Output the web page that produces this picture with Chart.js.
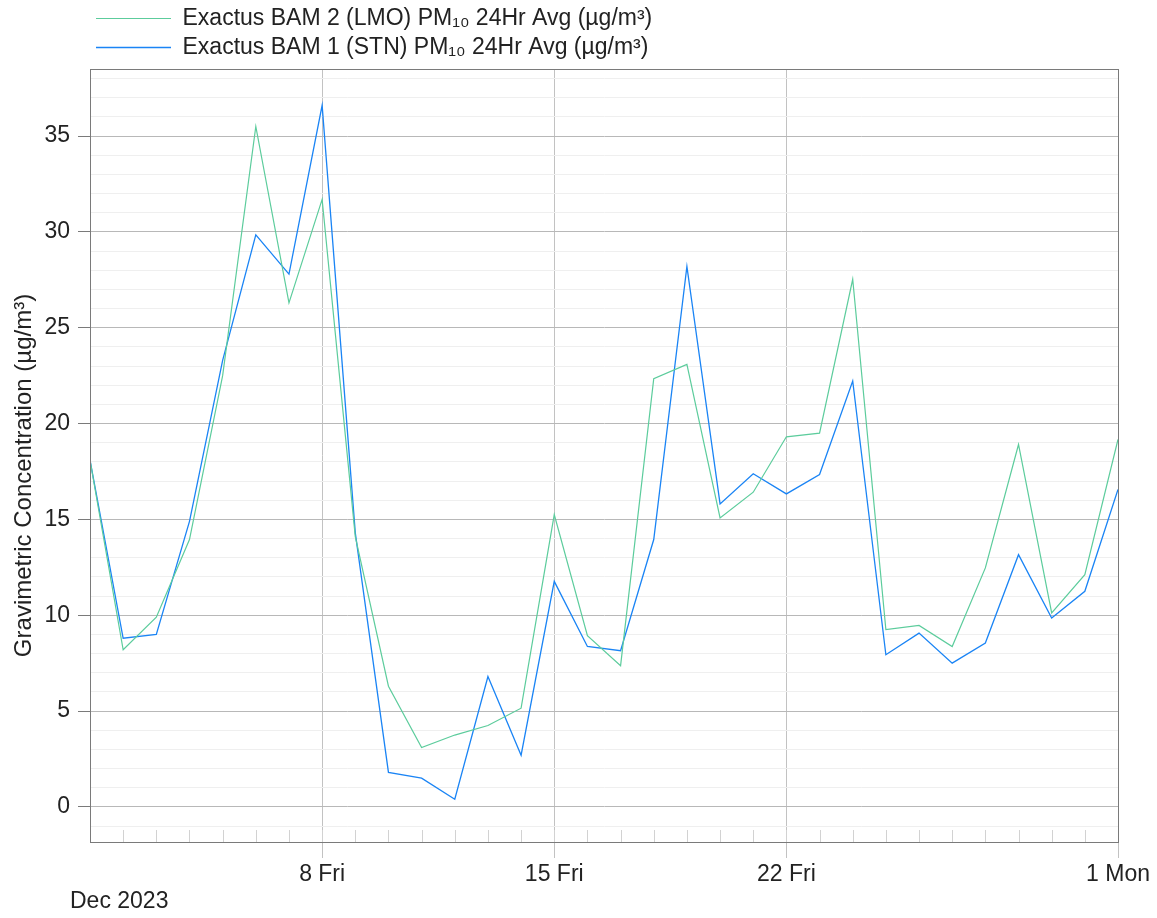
<!DOCTYPE html>
<html>
<head>
<meta charset="utf-8">
<script src="https://cdn.jsdelivr.net/npm/chart.js@4"></script>
<style>
  html, body { margin: 0; padding: 0; background: #fff; }
  #wrap { width: 1157px; height: 918px; position: relative; }
</style>
</head>
<body>
<div id="wrap"><canvas id="chart"></canvas></div>
<script>
// days: 1..31 = Dec 2023, 32 = 1 Jan 2024
const days = [1, 2, 3, 4, 5, 6, 7, 8, 9, 10, 11, 12, 13, 14, 15, 16,
              17, 18, 19, 20, 21, 22, 23, 24, 25, 26, 27, 28, 29, 30, 31, 32];
const bam2Lmo = [18.1, 8.2, 9.9, 13.95, 22.5, 35.5, 26.3, 31.7, 14.1, 6.3, 3.1, 3.75, 4.25, 5.15, 15.25, 8.93,
                 7.37, 22.34, 23.09, 15.08, 16.42, 19.31, 19.5, 27.53, 9.25, 9.47, 8.37, 12.47, 18.91, 10.12, 12.12, 19.17];
const bam1Stn = [18.1, 8.8, 9.0, 14.9, 23.3, 29.85, 27.8, 36.6, 14.3, 1.8, 1.5, 0.4, 6.8, 2.7, 11.77, 8.37,
                 8.15, 13.95, 28.2, 15.81, 17.38, 16.33, 17.34, 22.22, 7.94, 9.07, 7.5, 8.55, 13.16, 9.86, 11.25, 16.56];
const xTickValues = [8, 15, 22, 32];
const xTickLabels = ['8 Fri', '15 Fri', '22 Fri', '1 Mon'];
const monthLabel = 'Dec 2023';

const FONT = '"Liberation Sans", Arial, sans-serif';
const toXY = (ys) => ys.map((y, i) => ({ x: days[i], y }));

// frame + small day ticks + month label
const extras = {
  id: 'extras',
  afterDraw(chart) {
    const { ctx, chartArea: a, scales } = chart;
    ctx.save();
    ctx.strokeStyle = '#d2d2d2';
    ctx.lineWidth = 1;
    days.forEach(d => {
      if (d === days[0] || d === days[days.length - 1]) return;
      const px = Math.round(scales.x.getPixelForValue(d)) + 0.5;
      ctx.beginPath();
      ctx.moveTo(px, a.bottom - 12);
      ctx.lineTo(px, a.bottom);
      ctx.stroke();
    });
    ctx.strokeStyle = '#7a7a7a';
    ctx.strokeRect(Math.round(a.left) + 0.5, Math.round(a.top) + 0.5, Math.round(a.width), Math.round(a.height));
    ctx.fillStyle = '#222';
    ctx.font = '23px ' + FONT;
    ctx.textBaseline = 'middle';
    ctx.textAlign = 'left';
    ctx.fillText(monthLabel, 70, 902);
    ctx.restore();
  }
};

new Chart(document.getElementById('chart'), {
  type: 'line',
  data: {
    datasets: [
      { label: 'Exactus BAM 2 (LMO) PM₁₀ 24Hr Avg (µg/m³)', data: toXY(bam2Lmo),
        borderColor: '#5ccc9c', backgroundColor: '#5ccc9c', borderWidth: 1.2 },
      { label: 'Exactus BAM 1 (STN) PM₁₀ 24Hr Avg (µg/m³)', data: toXY(bam1Stn),
        borderColor: '#1a84f5', backgroundColor: '#1a84f5', borderWidth: 1.3 }
    ]
  },
  options: {
    responsive: true,
    maintainAspectRatio: false,
    animation: false,
    layout: { padding: { top: 1, right: 39, left: 0, bottom: 0 } },
    elements: { point: { radius: 0 }, line: { tension: 0 } },
    plugins: {
      tooltip: { enabled: false },
      legend: {
        position: 'top',
        align: 'start',
        fullSize: false,
        labels: {
          usePointStyle: true, pointStyle: 'line', pointStyleWidth: 75,
          padding: 6, color: '#222', font: { family: FONT, size: 23 }
        }
      }
    },
    scales: {
      x: {
        type: 'linear',
        min: 1, max: 32,
        afterBuildTicks: (s) => { s.ticks = xTickValues.map(v => ({ value: v })); },
        afterFit: (s) => { s.height = 76; },
        ticks: {
          autoSkip: false, maxRotation: 0, padding: 3, color: '#222',
          font: { family: FONT, size: 23 },
          callback: (v, i) => xTickLabels[i]
        },
        grid: { color: '#c2c2c2', tickColor: '#c2c2c2', tickLength: 16 },
        border: { color: '#7a7a7a' }
      },
      y: {
        min: -1.83, max: 38.5,
        afterFit: (s) => { s.width = 90; },
        ticks: {
          stepSize: 1, includeBounds: false, autoSkip: false, padding: 8, color: '#222',
          font: { family: FONT, size: 23 },
          callback: (v) => (v >= 0 && v % 5 === 0 ? String(v) : '')
        },
        grid: {
          tickLength: 12,
          color: (c) => (c.tick && c.tick.value % 5 === 0 ? '#b8b8b8' : '#efefef'),
          tickColor: (c) => (c.tick && c.tick.value % 5 === 0 && c.tick.value >= 0 ? '#7a7a7a' : 'rgba(0,0,0,0)')
        },
        border: { color: '#7a7a7a' },
        title: {
          display: true,
          text: 'Gravimetric Concentration (µg/m³)      ',
          color: '#222',
          padding: { top: 10, bottom: 0 },
          font: { family: FONT, size: 24 }
        }
      }
    }
  },
  plugins: [extras]
});
</script>
</body>
</html>
